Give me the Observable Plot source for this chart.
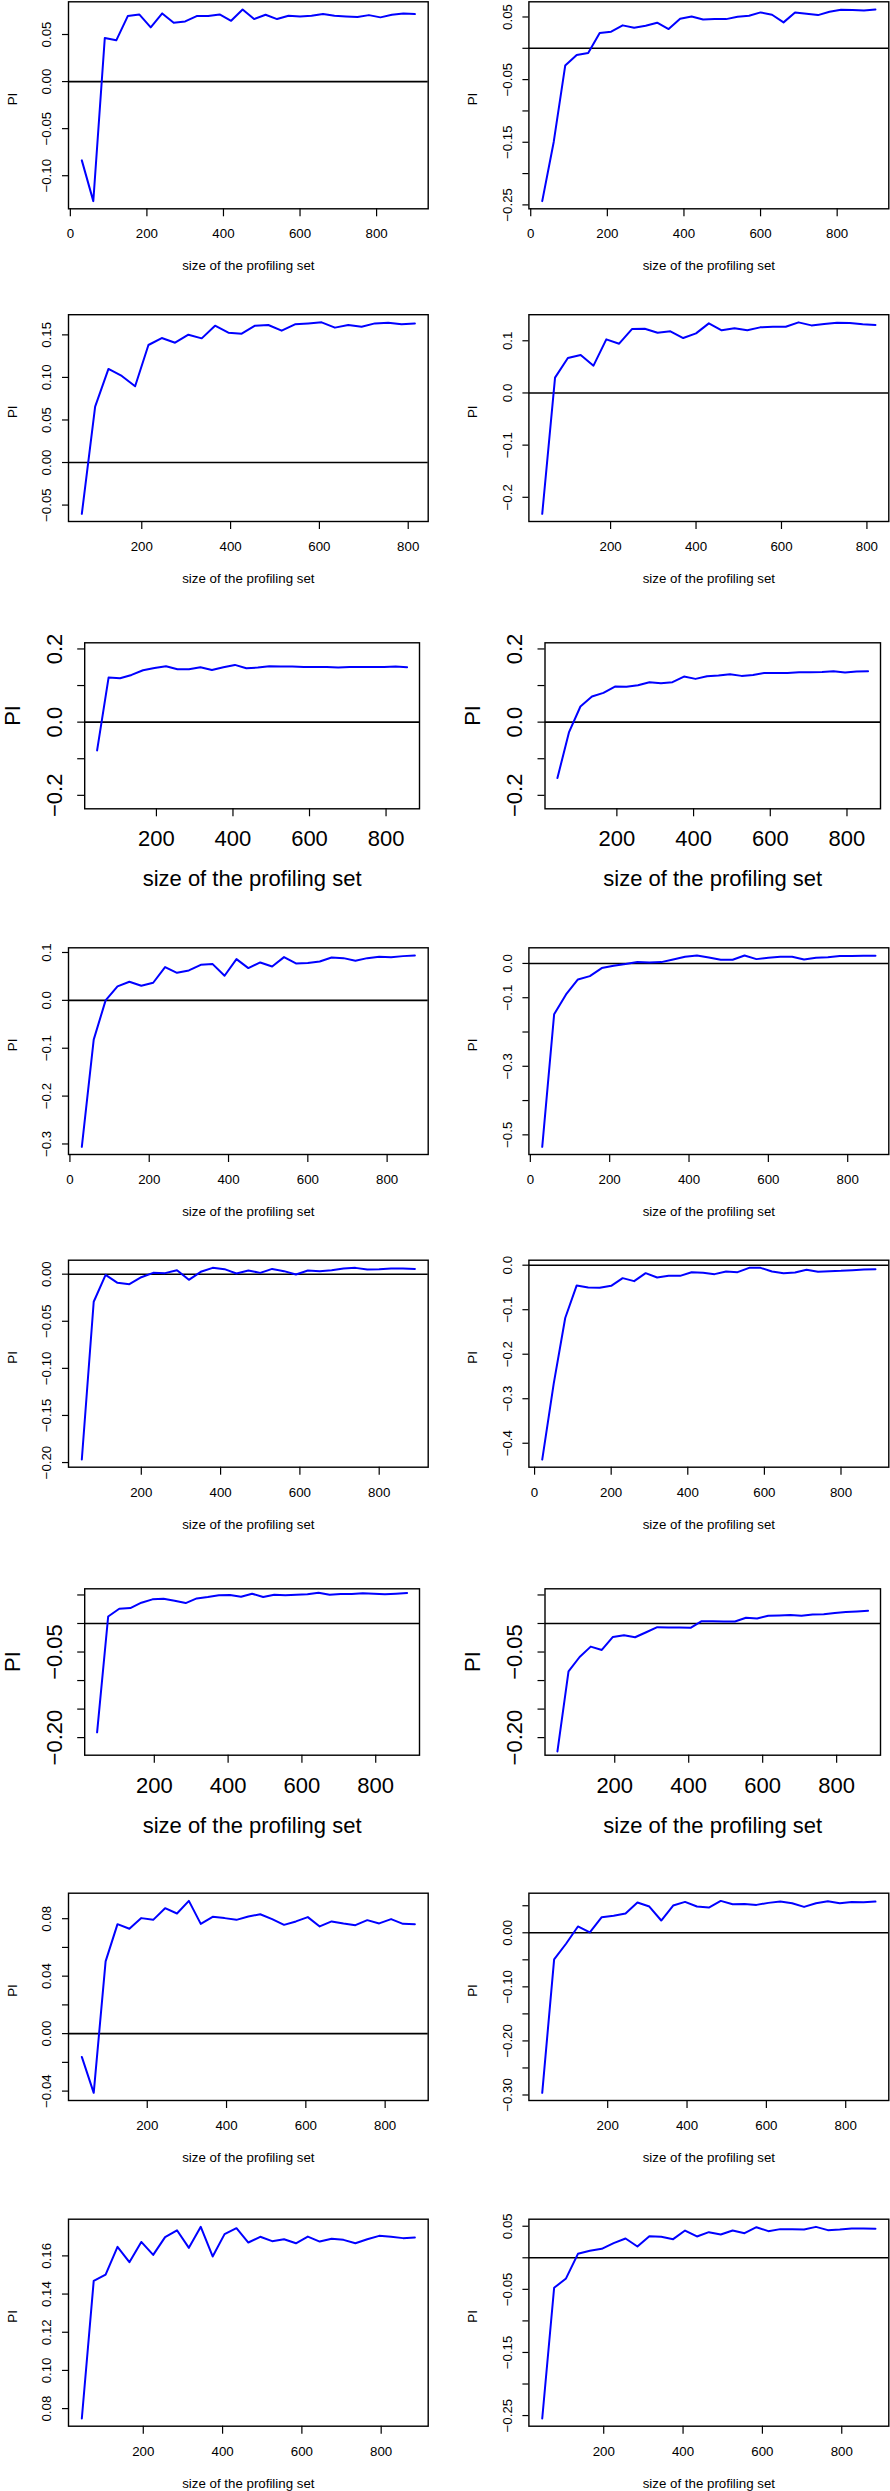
<!DOCTYPE html>
<html>
<head>
<meta charset="utf-8">
<script src="https://cdn.jsdelivr.net/npm/d3@7"></script>
<script src="https://cdn.jsdelivr.net/npm/@observablehq/plot@0.6"></script>
<style>
  html, body { margin: 0; padding: 0; background: #fff; }
  #root { position: relative; width: 890px; height: 2491px; background: #fff; overflow: hidden; }
</style>
</head>
<body>
<div id="root"></div>
<script>
// ---------- DATA ----------
const xA = [30,60,90,120,150,180,210,240,270,300,330,360,390,420,450,480,510,540,570,600,630,660,690,720,750,780,810,840,870,900];
const xB = [65,95,125,155,185,215,245,275,305,335,365,395,425,455,485,515,545,575,605,635,665,695,725,755,785,815];
const xC = [40,70,100,130,160,190,220,250,280,310,340,370,400,430,460,490,520,550,580,610,640,670,700,730,760,790,820];
const xD = [45,75,105,135,165,195,225,255,285,315,345,375,405,435,465,495,525,555,585,615,645,675,705,735,765,795,825,855];
const xE = [30,60,90,120,150,180,210,240,270,300,330,360,390,420,450,480,510,540,570,600,630,660,690,720,750,780,810,840,870];
const xF = [50,80,110,140,170,200,230,260,290,320,350,380,410,440,470,500,530,560,590,620,650,680,710,740,770,800,830,860,890];
const xG = [20,50,80,110,140,170,200,230,260,290,320,350,380,410,440,470,500,530,560,590,620,650,680,710,740,770,800,830,860,890];
const xH = [45,75,105,135,165,195,225,255,285,315,345,375,405,435,465,495,525,555,585,615,645,675,705,735,765,795,825,855,885];
const xI = [35,65,95,125,155,185,215,245,275,305,335,365,395,425,455,485,515,545,575,605,635,665,695,725,755,785,815,845,875];

const piP1 = [-0.0837,-0.127,0.0463,0.0438,0.0696,0.0713,0.0576,0.0724,0.0625,0.0639,0.0696,0.0696,0.0713,0.0646,0.0766,0.0664,0.0710,0.0664,0.0699,0.0692,0.0699,0.0717,0.0699,0.0692,0.0685,0.0706,0.0682,0.0710,0.0724,0.0717];
const piP2 = [-0.244,-0.1495,-0.0276,-0.0106,-0.0074,0.0244,0.0265,0.0366,0.0329,0.0360,0.0408,0.0307,0.0472,0.0509,0.0461,0.0466,0.0466,0.0504,0.0520,0.0573,0.0536,0.0414,0.0573,0.0552,0.0530,0.0583,0.0615,0.0610,0.0604,0.0620];
const piP3 = [-0.0603,0.0657,0.110,0.1017,0.0896,0.1381,0.1463,0.1408,0.1502,0.1459,0.1608,0.1526,0.1514,0.1608,0.1616,0.1549,0.1624,0.1635,0.1647,0.1585,0.1616,0.1596,0.1635,0.1643,0.1624,0.1635];
const piP4 = [-0.2317,0.0294,0.0670,0.0728,0.0523,0.1027,0.0944,0.1225,0.1232,0.1155,0.1181,0.1053,0.1142,0.1334,0.1200,0.1238,0.1200,0.1257,0.1270,0.1270,0.1353,0.1295,0.1321,0.1347,0.1340,0.1315,0.1302];
const piP5 = [-0.0773,0.1218,0.12,0.129,0.1418,0.148,0.1527,0.1445,0.1445,0.15,0.1427,0.15,0.1564,0.1473,0.149,0.1527,0.1518,0.1518,0.1509,0.1509,0.1509,0.149,0.1509,0.1509,0.1509,0.1509,0.1518,0.15];
const piP6 = [-0.1527,-0.0282,0.0427,0.07,0.08,0.0973,0.0964,0.1009,0.1091,0.1064,0.1091,0.1245,0.1182,0.1255,0.1273,0.1309,0.1264,0.1291,0.1345,0.1345,0.1345,0.1364,0.1364,0.1373,0.1391,0.1355,0.1382,0.1391];
const piP7 = [-0.306,-0.082,0.0,0.0292,0.0389,0.0306,0.0368,0.0694,0.0576,0.0625,0.0743,0.0757,0.0514,0.0861,0.0674,0.0792,0.0708,0.0903,0.0771,0.0778,0.0813,0.0896,0.0882,0.0826,0.0882,0.091,0.0903,0.0924,0.0938];
const piP8 = [-0.535,-0.1485,-0.0903,-0.0466,-0.0369,-0.0136,-0.0068,-0.0019,0.0039,0.0029,0.0039,0.0117,0.0194,0.0233,0.0175,0.0107,0.0107,0.0233,0.0126,0.0165,0.0194,0.0194,0.0117,0.0165,0.0184,0.0214,0.0214,0.0223,0.0223];
const piP9 = [-0.1968,-0.0293,-0.0007,-0.0092,-0.0106,-0.0032,0.0014,0.0011,0.0042,-0.006,0.0025,0.0067,0.0053,0.0007,0.0039,0.0014,0.0056,0.0032,-0.0004,0.0039,0.0032,0.0042,0.006,0.0067,0.0049,0.0053,0.006,0.006,0.0056];
const piP10 = [-0.4366,-0.266,-0.1187,-0.0455,-0.05,-0.0507,-0.0463,-0.0291,-0.0358,-0.0179,-0.0276,-0.0239,-0.0239,-0.0157,-0.0172,-0.0201,-0.0142,-0.0157,-0.006,-0.006,-0.0142,-0.0179,-0.0164,-0.0104,-0.0149,-0.0134,-0.0127,-0.0112,-0.0097,-0.009];
const piP11 = [-0.1907,0.0123,0.0258,0.027,0.0364,0.0423,0.0434,0.0399,0.0358,0.044,0.0464,0.0493,0.0499,0.0469,0.0522,0.0464,0.0505,0.0493,0.0505,0.0511,0.054,0.0505,0.0516,0.0516,0.0528,0.0522,0.0511,0.0522,0.0534];
const piP12 = [-0.2242,-0.0839,-0.0587,-0.0405,-0.0464,-0.0235,-0.0205,-0.0241,-0.0153,-0.0065,-0.0071,-0.0071,-0.0076,0.0041,0.0041,0.0035,0.0035,0.01,0.0088,0.0135,0.0141,0.0147,0.0135,0.0158,0.0164,0.0182,0.02,0.0211,0.0223];
const piP13 = [-0.0162,-0.0412,0.0503,0.0762,0.073,0.0804,0.0792,0.0873,0.0836,0.0924,0.0764,0.0813,0.0804,0.0792,0.0815,0.0831,0.0797,0.0757,0.0781,0.0811,0.0746,0.0781,0.0767,0.0755,0.079,0.0767,0.0797,0.0764,0.0762];
const piP14 = [-0.296,-0.0491,-0.0203,0.0117,0.0006,0.0289,0.0313,0.0356,0.0559,0.0485,0.0227,0.0504,0.0571,0.0485,0.0467,0.059,0.0528,0.0534,0.0516,0.0553,0.0577,0.0547,0.0479,0.0547,0.0584,0.0547,0.0571,0.0565,0.0577];
const piP15 = [0.0748,0.1469,0.1502,0.1647,0.1567,0.1673,0.1605,0.1698,0.1734,0.1642,0.1752,0.1597,0.1714,0.1745,0.167,0.17,0.1677,0.1687,0.1666,0.1701,0.1675,0.169,0.1684,0.1666,0.1687,0.1705,0.17,0.1693,0.1696];
const piP16 = [-0.2547,-0.0475,-0.0327,0.0063,0.0111,0.0142,0.0232,0.0306,0.0179,0.0343,0.0332,0.0295,0.0432,0.0338,0.0406,0.0369,0.0432,0.039,0.0485,0.0422,0.0454,0.0454,0.0448,0.049,0.0438,0.0448,0.0464,0.0464,0.0459];

// fixed y limits used by the large-font panels
const ylimRow3 = [-0.22, 0.2];
const ylimRow6 = [-0.22, 0.05];

// tick values and labels
const xTickValues = [0, 200, 400, 600, 800];
const xTickLabels = ["0", "200", "400", "600", "800"];
const yT1 = [-0.10,-0.05,0,0.05],            yL1 = ["−0.10","−0.05","0.00","0.05"];
const yT2 = [-0.25,-0.20,-0.15,-0.10,-0.05,0,0.05], yL2 = ["−0.25","","−0.15","","−0.05","","0.05"];
const yT3 = [-0.05,0,0.05,0.10,0.15],        yL3 = ["−0.05","0.00","0.05","0.10","0.15"];
const yT4 = [-0.2,-0.1,0,0.1],               yL4 = ["−0.2","−0.1","0.0","0.1"];
const yT5 = [-0.2,-0.1,0,0.1,0.2],           yL5 = ["−0.2","","0.0","","0.2"];
const yT7 = [-0.3,-0.2,-0.1,0,0.1],          yL7 = ["−0.3","−0.2","−0.1","0.0","0.1"];
const yT8 = [-0.5,-0.4,-0.3,-0.2,-0.1,0],    yL8 = ["−0.5","","−0.3","","−0.1","0.0"];
const yT9 = [-0.20,-0.15,-0.10,-0.05,0],     yL9 = ["−0.20","−0.15","−0.10","−0.05","0.00"];
const yT10 = [-0.4,-0.3,-0.2,-0.1,0],        yL10 = ["−0.4","−0.3","−0.2","−0.1","0.0"];
const yT11 = [-0.20,-0.15,-0.10,-0.05,0,0.05], yL11 = ["−0.20","","","−0.05","",""];
const yT13 = [-0.04,-0.02,0,0.02,0.04,0.06,0.08], yL13 = ["−0.04","","0.00","","0.04","","0.08"];
const yT14 = [-0.30,-0.25,-0.20,-0.15,-0.10,-0.05,0,0.05], yL14 = ["−0.30","","−0.20","","−0.10","","0.00",""];
const yT15 = [0.08,0.10,0.12,0.14,0.16],     yL15 = ["0.08","0.10","0.12","0.14","0.16"];
const yT16 = [-0.25,-0.20,-0.15,-0.10,-0.05,0,0.05], yL16 = ["−0.25","","−0.15","","−0.05","","0.05"];

const xTitle = "size of the profiling set";
const yTitle = "PI";

// ---------- LAYOUT ----------
const rows = [
  {top: 0,    h: 311, boxT: 1.3,    boxB: 208.3,  big: false},
  {top: 311,  h: 311, boxT: 314.2,  boxB: 521,    big: false},
  {top: 622,  h: 311, boxT: 642.3,  boxB: 808.3,  big: true},
  {top: 933,  h: 311, boxT: 947.3,  boxB: 1154,   big: false},
  {top: 1244, h: 311, boxT: 1259.7, boxB: 1466.7, big: false},
  {top: 1555, h: 311, boxT: 1588.3, boxB: 1754.7, big: true},
  {top: 1866, h: 311, boxT: 1892.7, boxB: 2100,   big: false},
  {top: 2177, h: 314, boxT: 2218.7, boxB: 2425.7, big: false}
];
const cols = {
  small: [{x: 0, w: 445, boxL: 68, boxR: 427.7}, {x: 445, w: 445, boxL: 528.4, boxR: 888.3}],
  big:   [{x: 0, w: 445, boxL: 84.2, boxR: 419}, {x: 445, w: 445, boxL: 544.5, boxR: 880}]
};

const panels = [
  {row: 0, col: 0, x: xA, y: piP1,  yt: yT1,  yl: yL1},
  {row: 0, col: 1, x: xA, y: piP2,  yt: yT2,  yl: yL2},
  {row: 1, col: 0, x: xB, y: piP3,  yt: yT3,  yl: yL3},
  {row: 1, col: 1, x: xC, y: piP4,  yt: yT4,  yl: yL4},
  {row: 2, col: 0, x: xD, y: piP5,  yt: yT5,  yl: yL5, ylim: ylimRow3},
  {row: 2, col: 1, x: xD, y: piP6,  yt: yT5,  yl: yL5, ylim: ylimRow3},
  {row: 3, col: 0, x: xE, y: piP7,  yt: yT7,  yl: yL7},
  {row: 3, col: 1, x: xE, y: piP8,  yt: yT8,  yl: yL8},
  {row: 4, col: 0, x: xF, y: piP9,  yt: yT9,  yl: yL9},
  {row: 4, col: 1, x: xG, y: piP10, yt: yT10, yl: yL10},
  {row: 5, col: 0, x: xH, y: piP11, yt: yT11, yl: yL11, ylim: ylimRow6},
  {row: 5, col: 1, x: xH, y: piP12, yt: yT11, yl: yL11, ylim: ylimRow6},
  {row: 6, col: 0, x: xI, y: piP13, yt: yT13, yl: yL13},
  {row: 6, col: 1, x: xI, y: piP14, yt: yT14, yl: yL14},
  {row: 7, col: 0, x: xH, y: piP15, yt: yT15, yl: yL15},
  {row: 7, col: 1, x: xH, y: piP16, yt: yT16, yl: yL16}
];

const FONT = "'Liberation Sans', Arial, Helvetica, sans-serif";
const BLUE = "#0000ff";

// R-style axis range: data range extended by 4% at each side
function rRange([a, b]) { const d = (b - a) * 0.04; return [a - d, b + d]; }

const root = document.getElementById("root");

for (const p of panels) {
  const r = rows[p.row];
  const c = (r.big ? cols.big : cols.small)[p.col];
  const fs = r.big ? 22 : 13.3;
  const xd = rRange(d3.extent(p.x));
  const yd = rRange(p.ylim ? p.ylim : d3.extent(p.y));
  const data = p.x.map((v, i) => ({size: v, pi: p.y[i]}));
  const xLab = new Map(xTickValues.map((v, i) => [v, xTickLabels[i]]));
  const xt = xTickValues.filter(v => v >= xd[0] && v <= xd[1]);
  const yLab = new Map(p.yt.map((v, i) => [v, p.yl[i]]));

  const marks = [];
  if (yd[0] < 0 && yd[1] > 0) marks.push(Plot.ruleY([0], {stroke: "black", strokeWidth: 1.6}));
  marks.push(Plot.line(data, {x: "size", y: "pi", stroke: BLUE, strokeWidth: 2}));
  marks.push(Plot.frame({stroke: "black", strokeWidth: 1.4}));
  marks.push(Plot.axisX({
    ticks: xt, tickFormat: d => xLab.get(d), tickSize: 8,
    tickPadding: r.big ? 13.8 : 12.2, fontSize: fs, label: null, strokeWidth: 1.2
  }));
  marks.push(Plot.axisY({
    ticks: p.yt, tickFormat: d => yLab.get(d) ?? "", tickSize: r.big ? 7 : 6,
    tickPadding: r.big ? 16 : 11.2, tickRotate: -90, fontSize: fs, label: null, strokeWidth: 1.2
  }));
  marks.push(Plot.text([xTitle], {text: d => d, frameAnchor: "bottom", dy: r.big ? 70.4 : 57.4, fontSize: fs, lineAnchor: "middle", fill: "black"}));
  marks.push(Plot.text([yTitle], {text: d => d, frameAnchor: "left", dx: r.big ? -72 : -56, rotate: -90, fontSize: fs, lineAnchor: "middle", fill: "black"}));

  const svg = Plot.plot({
    width: c.w,
    height: r.h,
    marginLeft: c.boxL - c.x,
    marginRight: c.x + c.w - c.boxR,
    marginTop: r.boxT - r.top,
    marginBottom: r.top + r.h - r.boxB,
    x: {domain: xd},
    y: {domain: yd},
    style: {fontFamily: FONT, fontSize: fs + "px", background: "transparent", color: "black", overflow: "visible"},
    marks
  });
  svg.style.position = "absolute";
  svg.style.left = c.x + "px";
  svg.style.top = r.top + "px";
  root.appendChild(svg);
}
</script>
</body>
</html>
